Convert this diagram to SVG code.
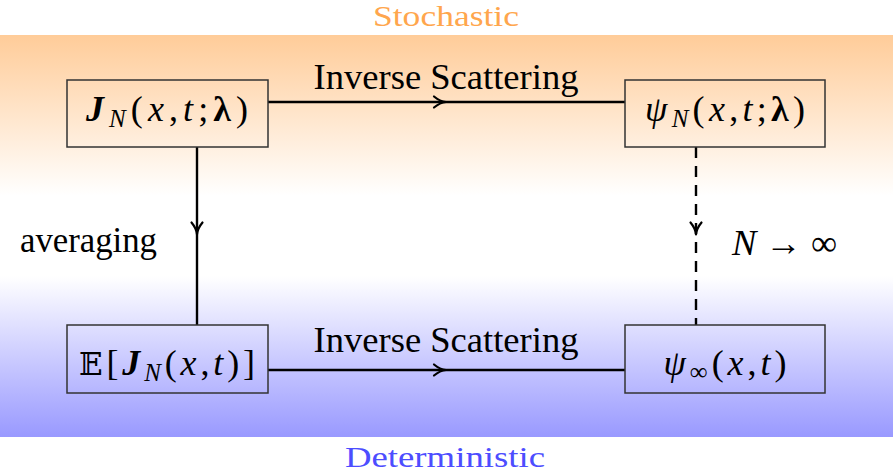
<svg xmlns="http://www.w3.org/2000/svg" width="893" height="473" viewBox="0 0 893 473">
  <defs>
    <linearGradient id="bg" x1="0" y1="0" x2="0" y2="1">
      <stop offset="0" stop-color="#FFCC99"/>
      <stop offset="0.4" stop-color="#FFFFFF"/>
      <stop offset="0.6" stop-color="#FFFFFF"/>
      <stop offset="1" stop-color="#9999FF"/>
    </linearGradient>
    <marker id="arr" markerUnits="userSpaceOnUse" viewBox="-15 -8 17 16" markerWidth="17" markerHeight="16" refX="0" refY="0" orient="auto" overflow="visible">
      <path d="M-12,-5.5 Q-6,-0.5 0,0 Q-6,0.5 -12,5.5" fill="none" stroke="#000" stroke-width="2.2" stroke-linecap="round" stroke-linejoin="round"/>
    </marker>
    <style>
      .box { fill: none; stroke: #333333; stroke-width: 1.5; }
      .lbl { font-family: "Liberation Serif", "DejaVu Serif", serif; font-size: 35px; fill: #000; }
      .title { font-family: "Liberation Serif", "DejaVu Serif", serif; font-size: 30px; }
      .math { font-family: "Liberation Serif", "DejaVu Serif", serif; font-size: 36px; fill: #000; }
      .it { font-style: italic; }
      .bi { font-style: italic; font-weight: bold; }
      .b { font-weight: bold; }
      .bb { font-family: "DejaVu Serif", "DejaVu Sans", serif; font-size: 31px; font-style: normal; }
      .conn { fill: none; stroke: #000; stroke-width: 2.4; marker-mid: url(#arr); }
      .dash { stroke-dasharray: 11 8; }
    </style>
  </defs>

  <rect x="0" y="35" width="893" height="402" fill="url(#bg)"/>

  <text class="title" x="446" y="26" text-anchor="middle" fill="#FFA64D" textLength="146" lengthAdjust="spacingAndGlyphs">Stochastic</text>
  <text class="title" x="445" y="467" text-anchor="middle" fill="#4D4DFF" textLength="200" lengthAdjust="spacingAndGlyphs">Deterministic</text>

  <g id="connectors">
    <path class="conn" d="M268,102 H446 H625"/>
    <path class="conn" d="M268,370 H446 H625"/>
    <path class="conn" d="M197,147 V234.5 V325"/>
    <path class="conn dash" d="M696,147 V234.5 V325"/>
    <text class="lbl" x="446" y="89" text-anchor="middle" textLength="265" lengthAdjust="spacingAndGlyphs">Inverse Scattering</text>
    <text class="lbl" x="446" y="352" text-anchor="middle" textLength="265" lengthAdjust="spacingAndGlyphs">Inverse Scattering</text>
    <text class="lbl" x="20" y="252" textLength="137" lengthAdjust="spacingAndGlyphs">averaging</text>
    <text class="math" x="732" y="255" textLength="105" lengthAdjust="spacingAndGlyphs"><tspan class="it">N</tspan> → ∞</text>
  </g>

  <g id="node-JN">
    <rect class="box" x="67" y="80" width="201" height="67"/>
    <text class="math" x="167" y="121" text-anchor="middle" textLength="162" lengthAdjust="spacing"><tspan class="bi">J</tspan><tspan class="it" font-size="25" dy="6">N</tspan><tspan dy="-6">(</tspan><tspan class="it">x</tspan>,<tspan class="it">t</tspan>;<tspan class="b">λ</tspan>)</text>
  </g>

  <g id="node-psiN">
    <rect class="box" x="625" y="80" width="200" height="67"/>
    <text class="math" x="725" y="121" text-anchor="middle" textLength="160" lengthAdjust="spacing"><tspan class="it">ψ</tspan><tspan class="it" font-size="25" dy="6">N</tspan><tspan dy="-6">(</tspan><tspan class="it">x</tspan>,<tspan class="it">t</tspan>;<tspan class="b">λ</tspan>)</text>
  </g>

  <g id="node-EJ">
    <rect class="box" x="67" y="325" width="201" height="68"/>
    <text class="math" x="167" y="375" text-anchor="middle" textLength="176" lengthAdjust="spacing"><tspan class="bb">𝔼</tspan>[<tspan class="bi">J</tspan><tspan class="it" font-size="25" dy="6">N</tspan><tspan dy="-6">(</tspan><tspan class="it">x</tspan>,<tspan class="it">t</tspan>)]</text>
  </g>

  <g id="node-psiInf">
    <rect class="box" x="625" y="325" width="200" height="68"/>
    <text class="math" x="725" y="375" text-anchor="middle" textLength="123" lengthAdjust="spacing"><tspan class="it">ψ</tspan><tspan font-size="25" dy="5">∞</tspan><tspan dy="-5">(</tspan><tspan class="it">x</tspan>,<tspan class="it">t</tspan>)</text>
  </g>
</svg>
